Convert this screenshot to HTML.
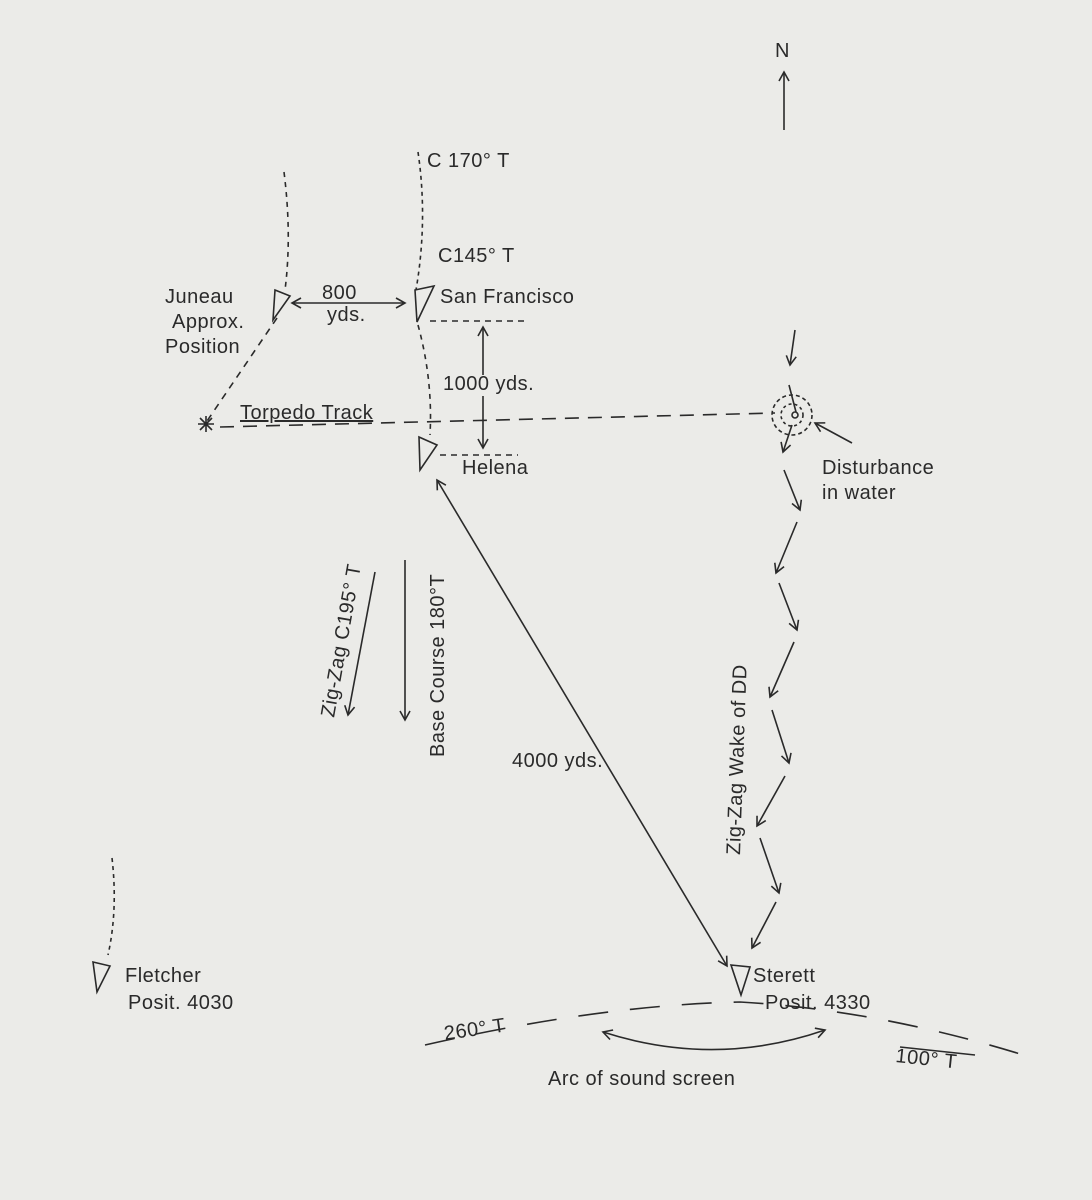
<!DOCTYPE html>
<html><head><meta charset="utf-8"><style>
html,body{margin:0;padding:0;background:#ebebe8;}
svg{display:block;}
text{font-family:"Liberation Sans",sans-serif;fill:#2a2a2a;font-size:20px;letter-spacing:0.5px;}
</style></head><body>
<svg width="1092" height="1200" viewBox="0 0 1092 1200" xmlns="http://www.w3.org/2000/svg">
<defs>
<marker id="a" markerWidth="12" markerHeight="12" refX="10" refY="6" orient="auto-start-reverse" markerUnits="userSpaceOnUse">
<path d="M1,1 L10,6 L1,11" fill="none" stroke="#2a2a2a" stroke-width="1.6"/></marker>
</defs>
<rect width="1092" height="1200" fill="#ebebe8"/>
<g stroke="#2a2a2a" stroke-width="1.6" fill="none">
<line x1="784" y1="130" x2="784" y2="72" marker-end="url(#a)"/>
<path d="M418,152 Q428,220 416,290" stroke-dasharray="4,4"/>
<path d="M284,172 Q292,235 285,290" stroke-dasharray="5,5"/>
<path d="M277,318 L205,424" stroke-dasharray="7,6"/>
<path d="M275,290 L290,296 L273,320 Z"/>
<path d="M415,290 L434,286 L417,322 Z"/>
<path d="M419,437 L437,445 L420,470 Z"/>
<path d="M93,962 L110,966 L97,992 Z"/>
<path d="M731,965 L750,967 L741,995 Z"/>
<line x1="292" y1="303" x2="405" y2="303" marker-start="url(#a)" marker-end="url(#a)"/>
<line x1="430" y1="321" x2="525" y2="321" stroke-dasharray="6,5"/>
<line x1="483" y1="327" x2="483" y2="375" marker-start="url(#a)"/>
<line x1="483" y1="396" x2="483" y2="448" marker-end="url(#a)"/>
<path d="M418,325 Q433,380 430,435" stroke-dasharray="5,5"/>
<line x1="440" y1="455" x2="518" y2="455" stroke-dasharray="6,5"/>
<line x1="220" y1="427" x2="775" y2="413" stroke-dasharray="14,9"/>
<path d="M198,424 L214,424 M206,416 L206,432 M200,418 L212,430 M212,418 L200,430"/>
<circle cx="792" cy="415" r="20" stroke-dasharray="4,3"/>
<circle cx="792" cy="415" r="11" stroke-dasharray="3,3"/>
<circle cx="795" cy="415" r="3"/>
<line x1="795" y1="330" x2="790" y2="365" marker-end="url(#a)"/>
<line x1="789" y1="385" x2="796" y2="412"/>
<line x1="792" y1="425" x2="783" y2="452" marker-end="url(#a)"/>
<line x1="852" y1="443" x2="815" y2="423" marker-end="url(#a)"/>
<polyline points="784,470 800,510" marker-end="url(#a)"/>
<polyline points="797,522 776,573" marker-end="url(#a)"/>
<polyline points="779,583 797,630" marker-end="url(#a)"/>
<polyline points="794,642 770,697" marker-end="url(#a)"/>
<polyline points="772,710 789,763" marker-end="url(#a)"/>
<polyline points="785,776 757,826" marker-end="url(#a)"/>
<polyline points="760,838 779,893" marker-end="url(#a)"/>
<polyline points="776,902 752,948" marker-end="url(#a)"/>
<line x1="437" y1="480" x2="727" y2="966" marker-start="url(#a)" marker-end="url(#a)"/>
<line x1="375" y1="572" x2="348" y2="715" marker-end="url(#a)"/>
<line x1="405" y1="560" x2="405" y2="720" marker-end="url(#a)"/>
<path d="M112,858 Q118,910 108,955" stroke-dasharray="4,4"/>
<path d="M425,1045 Q600,1005 740,1002 Q880,1010 1030,1057" stroke-dasharray="30,22"/>
<path d="M603,1032 Q715,1068 825,1030" marker-start="url(#a)" marker-end="url(#a)"/>
<line x1="900" y1="1047" x2="975" y2="1055"/>
</g>
<text x="775" y="57">N</text>
<text x="427" y="167">C 170° T</text>
<text x="438" y="262">C145° T</text>
<text x="440" y="303">San Francisco</text>
<text x="165" y="303">Juneau</text>
<text x="172" y="328">Approx.</text>
<text x="165" y="353">Position</text>
<text x="322" y="299">800</text>
<text x="327" y="321">yds.</text>
<text x="443" y="390">1000 yds.</text>
<text x="240" y="419" text-decoration="underline">Torpedo Track</text>
<text x="462" y="474">Helena</text>
<text x="822" y="474">Disturbance</text>
<text x="822" y="499">in water</text>
<text x="512" y="767">4000 yds.</text>
<text transform="translate(334,718) rotate(-80)">Zig-Zag C195° T</text>
<text transform="translate(444,757) rotate(-90)">Base Course 180°T</text>
<text transform="translate(740,855) rotate(-88)">Zig-Zag   Wake of DD</text>
<text x="125" y="982">Fletcher</text>
<text x="128" y="1009">Posit. 4030</text>
<text x="753" y="982">Sterett</text>
<text x="765" y="1009">Posit. 4330</text>
<text transform="translate(445,1040) rotate(-8)">260° T</text>
<text transform="translate(895,1062) rotate(6)">100° T</text>
<text x="548" y="1085">Arc of sound screen</text>
</svg>
</body></html>
